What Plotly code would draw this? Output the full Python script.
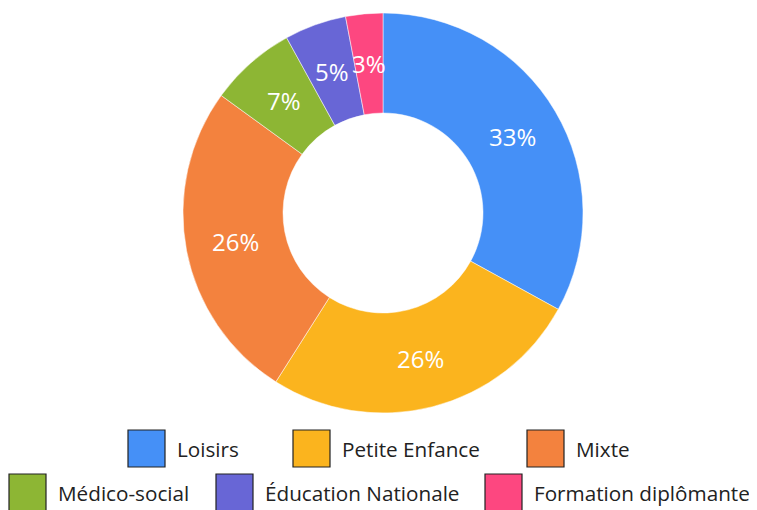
import numpy as np
import plotly.graph_objects as go

# --- Données ---
categories = ["Loisirs", "Petite Enfance", "Mixte", "Médico-social", "Éducation Nationale", "Formation diplômante"]
valeurs = [33, 26, 26, 7, 5, 3]
couleurs = ["#4590F7", "#FBB41E", "#F3823E", "#8DB634", "#6866D6", "#FD4780"]

# la page a une marge de 8 px : on travaille en pixels de la capture moins 8
DEC = 8
W, H = 757 - DEC, 510 - DEC
police = "Open Sans"

def px_x(x):
    return (x - DEC) / W

def px_y(y):
    return 1 - (y - DEC) / H

# géométrie de l'anneau (pixels de la capture)
cx, cy, r_ext = 383, 213, 200
trou = 0.5

fig = go.Figure()

fig.add_trace(go.Pie(
    labels=categories, values=valeurs,
    sort=False, direction="clockwise", rotation=0,
    hole=trou,
    marker=dict(colors=couleurs, line=dict(color="white", width=0.5)),
    textinfo="none",
    domain=dict(x=[px_x(cx - r_ext), px_x(cx + r_ext)], y=[px_y(cy + r_ext), px_y(cy - r_ext)]),
    showlegend=False,
    hovertemplate="%{label}: %{value}%<extra></extra>"
))

# --- Étiquettes au milieu de chaque part, à mi-épaisseur de l'anneau ---
total = sum(valeurs)
cumul = np.cumsum([0] + valeurs[:-1])
r_txt = r_ext * (1 + trou) / 2
for v, c0 in zip(valeurs, cumul):
    ang = 2 * np.pi * (c0 + v / 2) / total
    x = cx + r_txt * np.sin(ang)
    y = cy - r_txt * np.cos(ang)
    fig.add_annotation(
        x=px_x(x), y=px_y(y), xref="paper", yref="paper",
        xanchor="center", yanchor="middle", showarrow=False,
        text=f"{v}%", font=dict(family=police, size=24, color="white")
    )

# --- Légende personnalisée (cases carrées bordées de noir) ---
# (x de la case, y haut de la case) en pixels de la capture
pos_legende = [(128, 430), (293, 430), (527, 430), (9, 474), (216, 474), (485, 474)]
cote = 37

for nom, coul, (px, py) in zip(categories, couleurs, pos_legende):
    fig.add_shape(
        type="rect", xref="paper", yref="paper",
        x0=px_x(px), x1=px_x(px + cote),
        y0=px_y(py + cote), y1=px_y(py),
        fillcolor=coul, line=dict(color="#222222", width=1.2)
    )
    fig.add_annotation(
        x=px_x(px + cote + 10), y=px_y(py + cote / 2),
        xref="paper", yref="paper", xanchor="left", yanchor="middle",
        text=nom, showarrow=False,
        font=dict(family=police, size=20.7, color="#222222")
    )

fig.update_layout(
    width=W, height=H,
    margin=dict(l=0, r=0, t=0, b=0),
    paper_bgcolor="white", plot_bgcolor="white",
    font=dict(family=police)
)

fig.write_html("out.html")
